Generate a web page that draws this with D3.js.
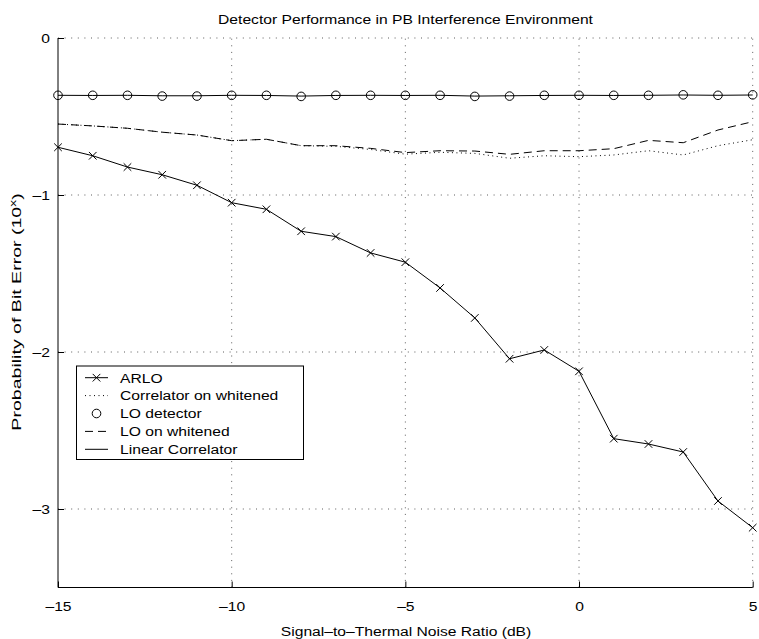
<!DOCTYPE html>
<html><head><meta charset="utf-8">
<script src="https://cdn.jsdelivr.net/npm/d3@7"></script>
<style>
body{margin:0;background:#fff;}
svg{display:block;font-family:"Liberation Sans",Arial,Helvetica,sans-serif;}
</style></head><body>
<svg id="chart" width="759" height="639"></svg>
<script>
const snr = [-15,-14,-13,-12,-11,-10,-9,-8,-7,-6,-5,-4,-3,-2,-1,0,1,2,3,4,5];
const arlo = [-0.696,-0.75,-0.822,-0.871,-0.938,-1.049,-1.091,-1.231,-1.265,-1.369,-1.428,-1.592,-1.783,-2.043,-1.987,-2.123,-2.552,-2.586,-2.637,-2.949,-3.119];
const corrWhitened = [-0.548,-0.56,-0.575,-0.6,-0.618,-0.654,-0.645,-0.686,-0.69,-0.71,-0.74,-0.728,-0.735,-0.766,-0.75,-0.756,-0.745,-0.718,-0.745,-0.686,-0.648];
const loDetector = [-0.365,-0.365,-0.365,-0.37,-0.37,-0.365,-0.365,-0.372,-0.365,-0.365,-0.365,-0.365,-0.372,-0.37,-0.365,-0.365,-0.365,-0.365,-0.362,-0.365,-0.362];
const loWhitened = [-0.548,-0.56,-0.575,-0.6,-0.618,-0.654,-0.645,-0.686,-0.686,-0.703,-0.73,-0.718,-0.72,-0.741,-0.718,-0.718,-0.705,-0.652,-0.667,-0.586,-0.533];
const linearCorr = [-0.365,-0.366,-0.365,-0.368,-0.368,-0.365,-0.366,-0.37,-0.366,-0.365,-0.366,-0.365,-0.37,-0.368,-0.366,-0.365,-0.366,-0.365,-0.363,-0.365,-0.363];
const xTicks = [-15,-10,-5,0,5];
const yTicks = [0,-1,-2,-3];
const seriesNames = ["ARLO","Correlator on whitened","LO detector","LO on whitened","Linear Correlator"];

const svg = d3.select("#chart");
const L=58, R=752.7, T=38, B=587.5;
const SX = 1.16, FS = 13.5;
const x = d3.scaleLinear().domain([-15,5]).range([L,R]);
const y = d3.scaleLinear().domain([-3.5,0]).range([B,T]);
const fmt = d => d<0 ? "\u2013"+Math.abs(d) : String(d);

function stretchedText(parent, px, py, str, anchor){
  const g = parent.append("g").attr("transform",`translate(${px},${py}) scale(${SX},1)`);
  return g.append("text").attr("text-anchor",anchor).attr("font-size",FS).attr("fill","#000").text(str);
}

// grid
const grid = svg.append("g").attr("stroke","#333").attr("stroke-width",0.8).attr("stroke-dasharray","1,5.6");
grid.selectAll("line.v").data(xTicks.filter(d=>d>-15)).join("line")
  .attr("x1",d=>x(d)).attr("x2",d=>x(d)).attr("y1",B).attr("y2",T);
grid.selectAll("line.h").data(yTicks.filter(d=>d>-3.5)).join("line")
  .attr("y1",d=>y(d)).attr("y2",d=>y(d)).attr("x1",L).attr("x2",R);

// axes
const xAxis = d3.axisBottom(x).tickValues(xTicks).tickSize(-6).tickPadding(14).tickFormat(fmt);
const yAxis = d3.axisLeft(y).tickValues(yTicks).tickSize(-6).tickPadding(7).tickFormat(fmt);
const gx = svg.append("g").attr("transform",`translate(0,${B})`).call(xAxis);
const gy = svg.append("g").attr("transform",`translate(${L},0)`).call(yAxis);
[gx,gy].forEach(g=>{
  g.select(".domain").attr("stroke","#000").attr("stroke-width",1);
  g.selectAll(".tick line").attr("stroke","#000");
  g.selectAll("text").attr("font-size",FS).attr("fill","#000").attr("font-family","Liberation Sans, Arial, sans-serif");
});
gx.selectAll(".tick text").attr("transform",`scale(${SX},1)`);
gy.selectAll(".tick text").attr("transform",`scale(${SX},1)`);
gx.select(".domain").attr("d",`M${L},0H${R}`);
gy.select(".domain").attr("d",`M0,${B}V${T}`);

const line = d3.line().x((d,i)=>x(snr[i])).y(d=>y(d));
const plotG = svg.append("g").attr("fill","none").attr("stroke","#000").attr("stroke-width",1);

plotG.append("path").attr("d",line(loWhitened)).attr("stroke-dasharray","8,5");
plotG.append("path").attr("d",line(corrWhitened)).attr("stroke-dasharray","1,3.5");
plotG.append("path").attr("d",line(linearCorr));
plotG.append("path").attr("d",line(arlo));
const cs=3.8;
plotG.selectAll("path.x").data(arlo).join("path")
  .attr("d",(d,i)=>{const px=x(snr[i]),py=y(d);return `M${px-cs},${py-cs}L${px+cs},${py+cs}M${px-cs},${py+cs}L${px+cs},${py-cs}`;});
plotG.selectAll("circle").data(loDetector).join("circle")
  .attr("cx",(d,i)=>x(snr[i])).attr("cy",d=>y(d)).attr("r",4.3);

// title and labels
stretchedText(svg, 405.5, 24, "Detector Performance in PB Interference Environment", "middle");
stretchedText(svg, 406, 636, "Signal\u2013to\u2013Thermal Noise Ratio (dB)", "middle");
const ylg = svg.append("g").attr("transform","translate(21,312) rotate(-90) scale(1.45,1)");
const yl = ylg.append("text").attr("text-anchor","middle").attr("font-size",FS);
yl.append("tspan").text("Probability of Bit Error (10");
yl.append("tspan").attr("font-size",9.5).attr("dy",-5.5).text("x");
yl.append("tspan").attr("dy",5.5).text(")");

// legend
const lg = svg.append("g");
lg.append("rect").attr("x",76.5).attr("y",366).attr("width",227).attr("height",93.5).attr("fill","#fff").attr("stroke","#000").attr("stroke-width",1);
const ly0=377.7, ldy=17.9, lx1=85, lx2=108;
seriesNames.forEach((name,i)=>{
  const yy = ly0+i*ldy;
  stretchedText(lg, 120, yy+4.8, name, "start");
  const g = lg.append("g").attr("fill","none").attr("stroke","#000").attr("stroke-width",1);
  if(i===0){
    g.append("line").attr("x1",lx1).attr("x2",lx2).attr("y1",yy).attr("y2",yy);
    const mx=(lx1+lx2)/2;
    g.append("path").attr("d",`M${mx-cs},${yy-cs}L${mx+cs},${yy+cs}M${mx-cs},${yy+cs}L${mx+cs},${yy-cs}`);
  } else if(i===1){
    g.append("line").attr("x1",lx1).attr("x2",lx2).attr("y1",yy).attr("y2",yy).attr("stroke-dasharray","1,3.5");
  } else if(i===2){
    g.append("circle").attr("cx",(lx1+lx2)/2).attr("cy",yy).attr("r",4.3);
  } else if(i===3){
    g.append("line").attr("x1",lx1).attr("x2",lx2).attr("y1",yy).attr("y2",yy).attr("stroke-dasharray","8,5");
  } else {
    g.append("line").attr("x1",lx1).attr("x2",lx2).attr("y1",yy).attr("y2",yy);
  }
});
</script>
</body></html>
